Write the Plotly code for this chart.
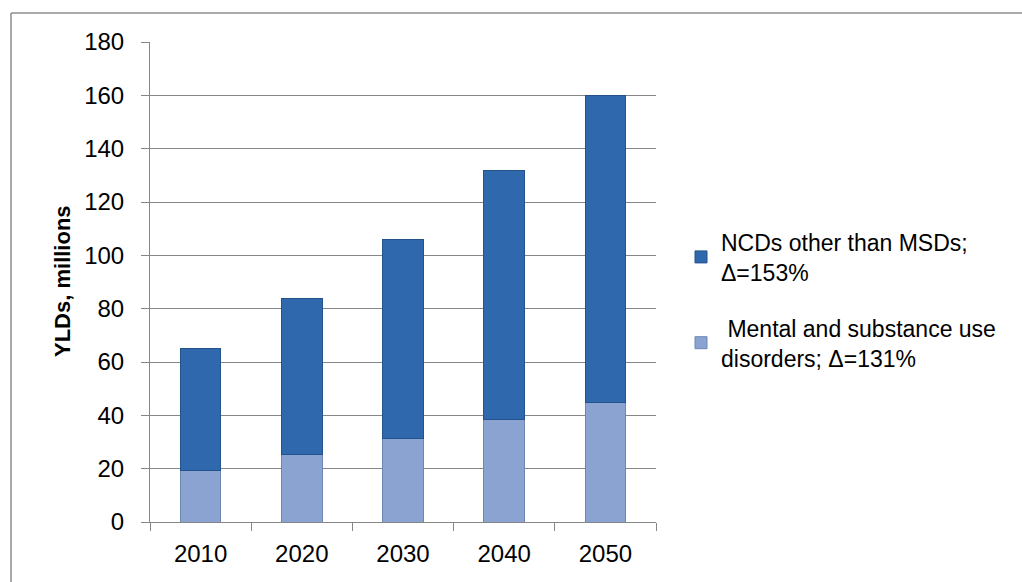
import plotly.graph_objects as go

years = ["2010", "2020", "2030", "2040", "2050"]
mental = [19.5, 25.2, 31.5, 38.3, 45.0]
ncd_other = [45.5, 58.6, 74.6, 93.4, 115.0]
y_ticks = [0, 20, 40, 60, 80, 100, 120, 140, 160, 180]

W, H = 1022, 582
L, R, T, B = 150, 366, 42, 60
pw, ph = W - L - R, H - T - B

def px(x):
    return (x - L) / pw

def py(y):
    return (H - B - y) / ph

FONT = "Liberation Sans"

fig = go.Figure()
fig.add_trace(go.Bar(
    x=years, y=mental, name=" Mental and substance use<br>disorders; Δ=131%",
    marker=dict(color="#8aa3d1", line=dict(color="#6f86b3", width=1)),
    legendgroup="a", legendrank=2,
))
fig.add_trace(go.Bar(
    x=years, y=ncd_other, name="NCDs other than MSDs;<br>Δ=153%",
    marker=dict(color="#2f68ad", line=dict(color="#24538c", width=1)),
    legendgroup="b", legendrank=1,
))

fig.update_layout(
    width=W, height=H,
    margin=dict(l=L, r=R, t=T, b=B),
    barmode="stack", bargap=0.6,
    plot_bgcolor="white", paper_bgcolor="white",
    font=dict(family=FONT, size=24, color="black"),
    showlegend=True,
    legend=dict(
        x=px(681), y=py(300), xanchor="left", yanchor="middle",
        traceorder="grouped", tracegroupgap=23,
        font=dict(family=FONT, size=23, color="black"),
        bgcolor="rgba(0,0,0,0)",
    ),
    xaxis=dict(
        showline=True, linecolor="#868686", linewidth=1,
        ticks="outside", tickson="boundaries", ticklen=8, tickcolor="#868686",
        tickfont=dict(size=24), showgrid=False, ticklabelstandoff=10,
    ),
    yaxis=dict(
        range=[0, 180], tickvals=y_ticks,
        showline=True, linecolor="#868686", linewidth=1,
        ticks="outside", ticklen=8, tickcolor="#868686",
        showgrid=True, gridcolor="#868686", gridwidth=1,
        tickfont=dict(size=24), zeroline=False, ticklabelstandoff=12,
    ),
    annotations=[dict(
        text="<b>YLDs, millions</b>", textangle=-90,
        xref="paper", yref="paper", x=px(62), y=py(281),
        xanchor="center", yanchor="middle", showarrow=False,
        font=dict(family=FONT, size=22, color="black"),
    )],
    shapes=[
        dict(type="line", xref="paper", yref="paper",
             x0=px(11), y0=py(13), x1=px(1030), y1=py(13),
             line=dict(color="#8c8c8c", width=1.5)),
        dict(type="line", xref="paper", yref="paper",
             x0=px(11), y0=py(13), x1=px(11), y1=py(600),
             line=dict(color="#8c8c8c", width=1.5)),
    ],
)

fig.write_html("out.html")
